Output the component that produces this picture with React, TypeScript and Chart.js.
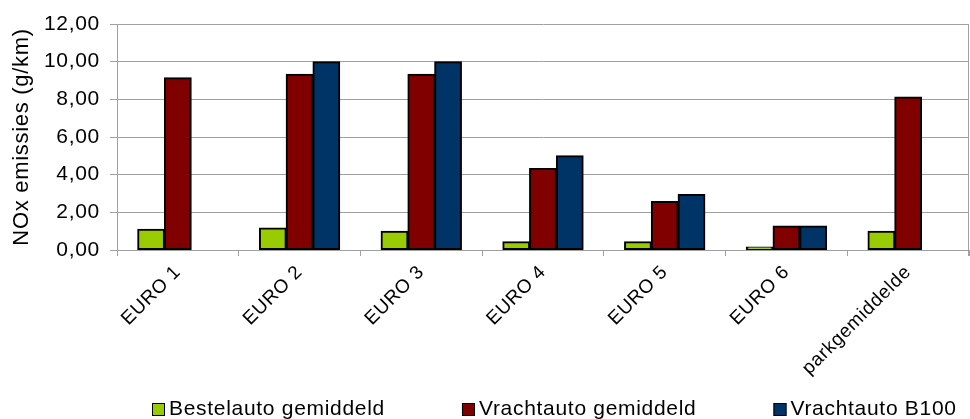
import React, { useEffect, useRef } from "react";
import { Chart, registerables } from "chart.js";

Chart.register(...registerables);

const categories = ["EURO 1", "EURO 2", "EURO 3", "EURO 4", "EURO 5", "EURO 6", "parkgemiddelde"];
const seriesNames = ["Bestelauto gemiddeld", "Vrachtauto gemiddeld", "Vrachtauto B100"];
const bestelauto = [1.1, 1.17, 1.0, 0.44, 0.44, 0.16, 1.0];
const vrachtauto = [9.14, 9.33, 9.33, 4.33, 2.57, 1.28, 8.13];
const vrachtautoB100 = [null, 10.0, 10.0, 5.0, 2.95, 1.28, null];
const seriesColors = ["#99cc00", "#800000", "#003366"];
const yTickValues = [0, 2, 4, 6, 8, 10, 12];
const yTitle = "NOx emissies (g/km)";

const FONT = "'Liberation Sans', Arial, sans-serif";
const GRID = "#a0a0a0";
const SPACING = "0.7px";

const spacingPlugin = {
  id: "spacing",
  beforeUpdate(chart: any) {
    chart.ctx.letterSpacing = SPACING;
  },
  beforeLayout(chart: any) {
    chart.ctx.letterSpacing = SPACING;
  },
  beforeDraw(chart: any) {
    chart.ctx.letterSpacing = SPACING;
  },
};

const frameAndLegend = {
  id: "frameAndLegend",
  afterDraw(chart: any) {
    const { ctx, chartArea } = chart;
    ctx.save();
    ctx.letterSpacing = SPACING;
    // right border of plot area
    ctx.strokeStyle = GRID;
    ctx.lineWidth = 1;
    ctx.beginPath();
    ctx.moveTo(Math.round(chartArea.right) - 0.5, chartArea.top);
    ctx.lineTo(Math.round(chartArea.right) - 0.5, chartArea.bottom + 6);
    ctx.stroke();

    // legend
    const fontSize = 21;
    ctx.font = `${fontSize}px ${FONT}`;
    const box = 13;
    const gapText = 4;
    const gapItem = 77;
    const items = chart.data.datasets.map((d: any) => ({
      label: d.label,
      color: d.backgroundColor,
      w: box + gapText + ctx.measureText(d.label).width,
    }));
    let x = chartArea.left + 35;
    const boxTop = 403;
    const baseline = 414.5;
    items.forEach((it: any) => {
      ctx.fillStyle = it.color;
      ctx.fillRect(x, boxTop, box, box);
      ctx.strokeStyle = "#000";
      ctx.lineWidth = 1;
      ctx.strokeRect(x + 0.5, boxTop + 0.5, box - 1, box - 1);
      ctx.fillStyle = "#000";
      ctx.textBaseline = "alphabetic";
      ctx.textAlign = "left";
      ctx.fillText(it.label, x + box + gapText, baseline);
      x += it.w + gapItem;
    });
    ctx.restore();
  },
};

export default function App() {
  const ref = useRef<HTMLCanvasElement | null>(null);
  useEffect(() => {
    document.body.style.margin = "0";
    const canvas = ref.current;
    if (!canvas) return;
    const data = [bestelauto, vrachtauto, vrachtautoB100];
    const chart = new Chart(canvas, {
      type: "bar",
      data: {
        labels: categories,
        datasets: seriesNames.map((name, i) => ({
          label: name,
          data: data[i] as any,
          backgroundColor: seriesColors[i],
          borderColor: "#000000",
          borderWidth: 2,
          borderSkipped: false,
          inflateAmount: 0.5,
          barPercentage: 1,
          categoryPercentage: 0.66,
        })),
      },
      options: {
        animation: false,
        responsive: true,
        maintainAspectRatio: false,
        layout: { padding: { top: 24, right: 1, left: 0, bottom: 0 } },
        plugins: {
          legend: { display: false },
          tooltip: { enabled: false },
        },
        scales: {
          x: {
            afterFit: (scale: any) => {
              scale.height = 169;
            },
            grid: {
              display: true,
              drawOnChartArea: false,
              drawTicks: true,
              tickLength: 6,
              color: GRID,
              offset: true,
            },
            border: { display: true, color: GRID },
            ticks: {
              autoSkip: false,
              minRotation: 45,
              maxRotation: 45,
              color: "#000",
              padding: 5,
              font: { family: FONT, size: 19 },
            },
          },
          y: {
            min: 0,
            max: 12,
            afterFit: (scale: any) => {
              scale.width = 117;
            },
            afterBuildTicks: (scale: any) => {
              scale.ticks = yTickValues.map((v) => ({ value: v }));
            },
            grid: {
              color: GRID,
              drawTicks: true,
              tickLength: 7,
            },
            border: { display: true, color: GRID },
            ticks: {
              color: "#000",
              padding: 10,
              font: { family: FONT, size: 21 },
              callback: (v: any) => Number(v).toFixed(2).replace(".", ","),
            },
            title: {
              display: true,
              text: yTitle,
              color: "#000",
              font: { family: FONT, size: 22 },
              padding: { top: 9, bottom: 0 },
            },
          },
        },
      },
      plugins: [spacingPlugin, frameAndLegend],
    });
    return () => chart.destroy();
  }, []);
  return (
    <div style={{ position: "fixed", left: 0, top: 0, width: 970, height: 419, background: "#fff" }}>
      <canvas ref={ref} />
    </div>
  );
}
